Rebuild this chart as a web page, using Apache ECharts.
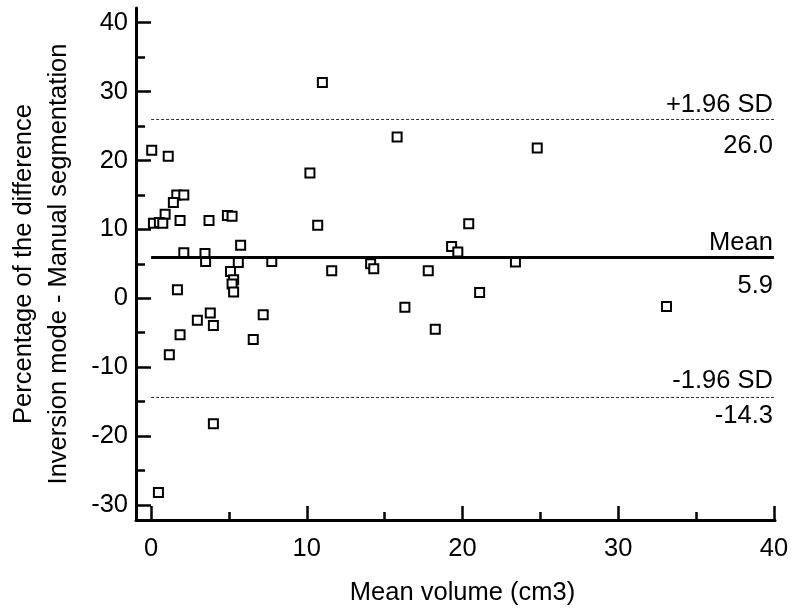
<!DOCTYPE html>
<html>
<head>
<meta charset="utf-8">
<script src="https://cdn.jsdelivr.net/npm/echarts@6/dist/echarts.min.js"></script>
<style>
  html, body { margin: 0; padding: 0; background: #fff; }
  #chart_main { width: 800px; height: 614px; }
</style>
</head>
<body>
<div id="chart_main"></div>
<script>
  // mean of the two volumes (cm3)
  var meanVolume = [11.0, 0.04, 1.1, 10.2, 1.65, 2.1, 1.43, 0.9, 0.15, 0.53,
    0.75, 1.86, 3.72, 4.9, 5.2, 10.7, 5.75, 2.1, 3.46, 3.5,
    5.6, 7.75, 11.6, 5.1, 5.3, 5.2, 5.3, 1.69, 3.8, 2.97,
    4.0, 7.2, 1.86, 6.56, 1.17, 4.0, 0.47, 15.8, 24.8, 20.4,
    19.3, 19.7, 14.1, 14.3, 17.8, 23.4, 21.1, 16.3, 18.25, 33.1];
  // percentage of the difference
  var pctDiff = [31.3, 21.5, 20.6, 18.2, 15.0, 15.0, 13.9, 12.2, 10.9, 11.0,
    10.9, 11.3, 11.3, 12.0, 11.9, 10.6, 7.7, 6.6, 6.5, 5.35,
    5.2, 5.35, 4.0, 3.9, 2.7, 2.06, 0.9, 1.24, -2.15, -3.2,
    -3.95, -2.4, -5.3, -6.0, -8.2, -18.2, -28.2, 23.4, 21.8, 10.8,
    7.5, 6.7, 5.0, 4.3, 4.0, 5.26, 0.85, -1.3, -4.5, -1.2];

  var limitNames = ['+1.96 SD', 'Mean', '-1.96 SD'];
  var limitValues = [26.0, 5.9, -14.3];

  var xTicks = [0, 10, 20, 30, 40];
  var xMinorTicks = [5, 15, 25, 35];
  var yTicks = [-30, -20, -10, 0, 10, 20, 30, 40];
  var yMinorTicks = [-25, -15, -5, 5, 15, 25, 35];

  var points = meanVolume.map(function (x, i) { return [x, pctDiff[i]]; });

  var FONT = 'Liberation Sans';
  var topGap = [1, 2, 3];
  var bottomGap = [14, 15, 6];

  var lineData = [];
  limitValues.forEach(function (v, i) {
    var isMean = limitNames[i] === 'Mean';
    var style = isMean
      ? { color: '#000', width: 3, type: 'solid' }
      : { color: '#333', width: 1, type: [3, 2] };
    lineData.push([
      { coord: [0, v], lineStyle: style,
        label: { show: true, formatter: limitNames[i], position: 'insideEndTop', distance: [1, topGap[i]] } },
      { coord: [40, v] }
    ]);
    // second, invisible line only carries the value label below
    lineData.push([
      { coord: [0, v], lineStyle: { color: 'rgba(0,0,0,0)', width: 1, type: 'solid' },
        label: { show: true, color: '#000', formatter: v.toFixed(1), position: 'insideEndBottom', distance: [1, bottomGap[i]] } },
      { coord: [40, v] }
    ]);
  });

  var myChart = echarts.init(document.getElementById('chart_main'));
  var option = {
    backgroundColor: '#fff',
    animation: false,
    textStyle: { fontFamily: FONT },
    grid: {
      left: 136,
      right: 25,
      top: 8,
      bottom: 94,
      containLabel: false,
      outerBoundsMode: 'none'
    },
    xAxis: [
      {
        type: 'value',
        min: -0.97,
        max: 40.07,
        position: 'bottom',
        name: 'Mean volume (cm3)',
        nameLocation: 'middle',
        nameGap: 60,
        nameTextStyle: { color: '#000', fontSize: 25.5, fontFamily: FONT, padding: [0, 0, 0, 14] },
        axisLine: { onZero: false, lineStyle: { color: '#000', width: 3 } },
        axisTick: { inside: true, length: 14, customValues: xTicks, lineStyle: { color: '#000', width: 2.5 } },
        axisLabel: { customValues: xTicks, margin: 16, color: '#000', fontSize: 25.5, fontFamily: FONT },
        splitLine: { show: false }
      },
      {
        type: 'value',
        min: -0.97,
        max: 40.07,
        position: 'bottom',
        axisLine: { show: false, onZero: false },
        axisTick: { inside: true, length: 8, customValues: xMinorTicks, lineStyle: { color: '#000', width: 2.5 } },
        axisLabel: { show: false },
        splitLine: { show: false }
      }
    ],
    yAxis: [
      {
        type: 'value',
        min: -32.18,
        max: 42.13,
        position: 'left',
        name: 'Percentage of the difference\nInversion mode - Manual segmentation',
        nameLocation: 'middle',
        nameRotate: 90,
        nameGap: 60,
        nameTextStyle: { color: '#000', fontSize: 25.5, lineHeight: 35, fontFamily: FONT },
        axisLine: { onZero: false, lineStyle: { color: '#000', width: 3 } },
        axisTick: { inside: true, length: 15, customValues: yTicks, lineStyle: { color: '#000', width: 2.5 } },
        axisLabel: { customValues: yTicks, margin: 8, color: '#000', fontSize: 25.5, fontFamily: FONT },
        splitLine: { show: false }
      },
      {
        type: 'value',
        min: -32.18,
        max: 42.13,
        position: 'left',
        axisLine: { show: false, onZero: false },
        axisTick: { inside: true, length: 9, customValues: yMinorTicks, lineStyle: { color: '#000', width: 2.5 } },
        axisLabel: { show: false },
        splitLine: { show: false }
      }
    ],
    series: [
      {
        name: 'Difference',
        type: 'scatter',
        xAxisIndex: 0,
        yAxisIndex: 0,
        symbol: 'rect',
        symbolSize: 9,
        itemStyle: { color: '#fff', borderColor: '#000', borderWidth: 2, opacity: 1 },
        data: points,
        markLine: {
          silent: true,
          symbol: 'none',
          animation: false,
          label: { color: '#000', fontSize: 25.5, fontFamily: FONT },
          data: lineData
        },
        z: 3
      }
    ]
  };
  myChart.setOption(option);
</script>
</body>
</html>
